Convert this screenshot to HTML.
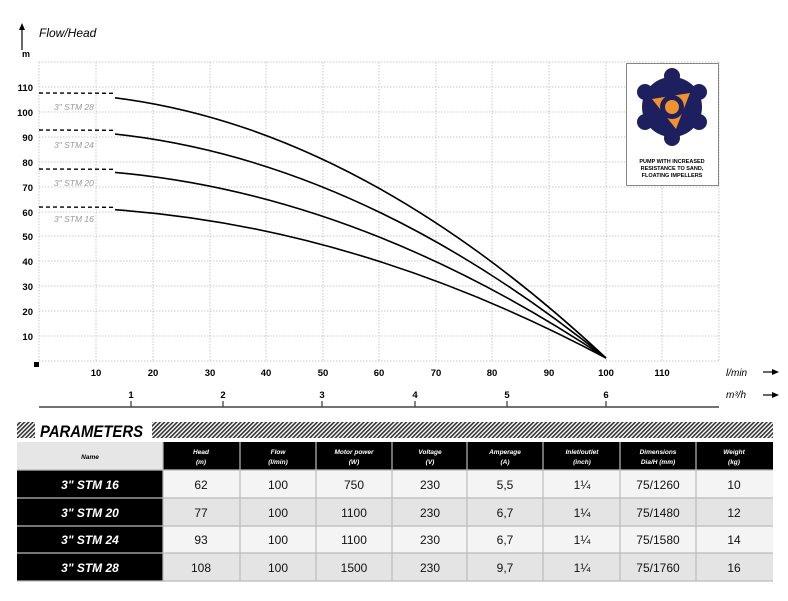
<!DOCTYPE html>
<html><head><meta charset="utf-8"><style>
body{margin:0;background:#fff;width:788px;height:596px;overflow:hidden;font-family:"Liberation Sans",sans-serif}
svg text{font-family:"Liberation Sans",sans-serif}
</style></head><body>
<svg width="788" height="596" viewBox="0 0 788 596" xmlns="http://www.w3.org/2000/svg">
<defs>
<pattern id="hatch" width="3" height="3" patternUnits="userSpaceOnUse" patternTransform="rotate(45)">
<rect width="3" height="3" fill="#fff"/><rect width="1.6" height="3" fill="#333"/>
</pattern>
<clipPath id="cl"><rect x="115" y="0" width="700" height="600"/></clipPath>
</defs>
<g stroke="#bbb" stroke-width="0.8" stroke-dasharray="1.5,1.5">
<line x1="39" y1="62" x2="719" y2="62"/><line x1="39" y1="87" x2="719" y2="87"/><line x1="39" y1="112" x2="719" y2="112"/><line x1="39" y1="137" x2="719" y2="137"/><line x1="39" y1="162" x2="719" y2="162"/><line x1="39" y1="187" x2="719" y2="187"/><line x1="39" y1="212" x2="719" y2="212"/><line x1="39" y1="236" x2="719" y2="236"/><line x1="39" y1="261" x2="719" y2="261"/><line x1="39" y1="286" x2="719" y2="286"/><line x1="39" y1="311" x2="719" y2="311"/><line x1="39" y1="336" x2="719" y2="336"/><line x1="39" y1="361" x2="719" y2="361"/>
<line x1="39" y1="62" x2="39" y2="361"/><line x1="96" y1="62" x2="96" y2="361"/><line x1="153" y1="62" x2="153" y2="361"/><line x1="210" y1="62" x2="210" y2="361"/><line x1="266" y1="62" x2="266" y2="361"/><line x1="323" y1="62" x2="323" y2="361"/><line x1="379" y1="62" x2="379" y2="361"/><line x1="436" y1="62" x2="436" y2="361"/><line x1="492" y1="62" x2="492" y2="361"/><line x1="549" y1="62" x2="549" y2="361"/><line x1="606" y1="62" x2="606" y2="361"/><line x1="662" y1="62" x2="662" y2="361"/><line x1="719" y1="62" x2="719" y2="361"/>
</g>
<line x1="22" y1="50" x2="22" y2="28" stroke="#000" stroke-width="1.2"/><polygon points="19,30 25,30 22,23" fill="#000"/>
<text x="39" y="37" font-size="12" font-style="italic">Flow/Head</text>
<text x="22" y="57" font-size="9" font-weight="bold">m</text>
<g font-size="9.5" font-weight="bold" text-anchor="end">
<text x="33" y="91">110</text><text x="33" y="116">100</text><text x="33" y="141">90</text><text x="33" y="166">80</text><text x="33" y="191">70</text><text x="33" y="216">60</text><text x="33" y="240">50</text><text x="33" y="265">40</text><text x="33" y="290">30</text><text x="33" y="315">20</text><text x="33" y="340">10</text>
</g>
<rect x="34" y="362" width="5" height="5" fill="#000"/>
<g fill="none" stroke="#000" stroke-width="1.6" clip-path="url(#cl)">
<path d="M39,93 Q322.5,93 606,358"/>
<path d="M39,130 Q322.5,130 606,358"/>
<path d="M39,169 Q322.5,169 606,358"/>
<path d="M39,207 Q322.5,207 606,358"/>
</g>
<g stroke="#000" stroke-width="1.4" stroke-dasharray="4,3">
<line x1="39" y1="93" x2="115" y2="93.3"/><line x1="39" y1="130" x2="115" y2="130.3"/><line x1="39" y1="169" x2="115" y2="169.3"/><line x1="39" y1="207" x2="115" y2="207.3"/>
</g>
<g font-size="8.5" font-style="italic" fill="#999">
<text x="54" y="110">3" STM 28</text><text x="54" y="148">3" STM 24</text><text x="54" y="186">3" STM 20</text><text x="54" y="222">3" STM 16</text>
</g>
<g font-size="9.5" font-weight="bold" text-anchor="middle">
<text x="96" y="376">10</text><text x="153" y="376">20</text><text x="210" y="376">30</text><text x="266" y="376">40</text><text x="323" y="376">50</text><text x="379" y="376">60</text><text x="436" y="376">70</text><text x="492" y="376">80</text><text x="549" y="376">90</text><text x="606" y="376">100</text><text x="662" y="376">110</text>
<text x="131" y="398">1</text><text x="223" y="398">2</text><text x="322" y="398">3</text><text x="415" y="398">4</text><text x="507" y="398">5</text><text x="606" y="398">6</text>
</g>
<text x="726" y="376" font-size="10" font-style="italic">l/min</text>
<text x="726" y="398" font-size="10" font-style="italic">m³/h</text>
<line x1="763" y1="372" x2="775" y2="372" stroke="#000" stroke-width="1.2"/><polygon points="772,369 779,372 772,375" fill="#000"/>
<line x1="763" y1="395" x2="775" y2="395" stroke="#000" stroke-width="1.2"/><polygon points="772,392 779,395 772,398" fill="#000"/>
<line x1="39" y1="407" x2="719" y2="407" stroke="#444" stroke-width="1.5"/>
<g stroke="#444" stroke-width="1.3"><line x1="131" y1="401" x2="131" y2="407"/><line x1="223" y1="401" x2="223" y2="407"/><line x1="322" y1="401" x2="322" y2="407"/><line x1="415" y1="401" x2="415" y2="407"/><line x1="507" y1="401" x2="507" y2="407"/><line x1="606" y1="401" x2="606" y2="407"/></g>
<rect x="626.5" y="63.5" width="92" height="122" fill="#fff" stroke="#888"/>
<g transform="translate(672,107)">
<circle r="30" fill="#1d1f5e"/>
<g fill="#1d1f5e"><circle cx="0" cy="-31" r="8"/><circle cx="27" cy="-15" r="8"/><circle cx="27" cy="15" r="8"/><circle cx="0" cy="31" r="8"/><circle cx="-27" cy="15" r="8"/><circle cx="-27" cy="-15" r="8"/></g>
<polygon points="-20,-8 18,-14 4,22" fill="#f0922e"/>
<circle r="12" fill="#1d1f5e"/><circle r="7" fill="#f0922e"/>
</g>
<g font-size="5.5" font-weight="bold" text-anchor="middle"><text x="672" y="163">PUMP WITH INCREASED</text><text x="672" y="170">RESISTANCE TO SAND,</text><text x="672" y="177">FLOATING IMPELLERS</text></g>
<rect x="17" y="422" width="18" height="16" fill="url(#hatch)"/>
<rect x="152" y="422" width="621" height="16" fill="url(#hatch)"/>
<text x="40" y="437" font-size="17" font-weight="bold" font-style="italic" textLength="103" lengthAdjust="spacingAndGlyphs">PARAMETERS</text>
<rect x="17" y="442" width="146" height="28" fill="#e6e6e6"/>
<rect x="163" y="442" width="610" height="28" fill="#000"/>
<rect x="17" y="470" width="146" height="111" fill="#000"/>
<rect x="163" y="470" width="610" height="28" fill="#f4f4f4"/>
<rect x="163" y="498" width="610" height="28" fill="#e4e4e4"/>
<rect x="163" y="526" width="610" height="27" fill="#f4f4f4"/>
<rect x="163" y="553" width="610" height="28" fill="#e4e4e4"/>
<g stroke="#bbb" stroke-width="1.2">
<line x1="17" y1="470" x2="773" y2="470"/><line x1="17" y1="498" x2="773" y2="498"/><line x1="17" y1="526" x2="773" y2="526"/><line x1="17" y1="553" x2="773" y2="553"/><line x1="17" y1="581" x2="773" y2="581"/>
<line x1="163" y1="442" x2="163" y2="581"/><line x1="240" y1="442" x2="240" y2="581"/><line x1="316" y1="442" x2="316" y2="581"/><line x1="392" y1="442" x2="392" y2="581"/><line x1="467" y1="442" x2="467" y2="581"/><line x1="543" y1="442" x2="543" y2="581"/><line x1="620" y1="442" x2="620" y2="581"/><line x1="696" y1="442" x2="696" y2="581"/>
</g>
<g font-size="6.5" font-weight="bold" font-style="italic" text-anchor="middle" fill="#fff">
<text x="90" y="459" fill="#000">Name</text>
<text x="201" y="454">Head</text><text x="201" y="464">(m)</text>
<text x="278" y="454">Flow</text><text x="278" y="464">(l/min)</text>
<text x="354" y="454">Motor power</text><text x="354" y="464">(W)</text>
<text x="430" y="454">Voltage</text><text x="430" y="464">(V)</text>
<text x="505" y="454">Amperage</text><text x="505" y="464">(A)</text>
<text x="582" y="454">Inlet/outlet</text><text x="582" y="464">(inch)</text>
<text x="658" y="454">Dimensions</text><text x="658" y="464">Dia/H (mm)</text>
<text x="734" y="454">Weight</text><text x="734" y="464">(kg)</text>
</g>
<g font-size="12" font-weight="bold" font-style="italic" text-anchor="middle" fill="#fff">
<text x="90" y="489">3" STM 16</text><text x="90" y="517">3" STM 20</text><text x="90" y="544">3" STM 24</text><text x="90" y="572">3" STM 28</text>
</g>
<g font-size="12" text-anchor="middle" fill="#111">
<text x="201" y="489">62</text><text x="278" y="489">100</text><text x="354" y="489">750</text><text x="430" y="489">230</text><text x="505" y="489">5,5</text><text x="582" y="489">1¼</text><text x="658" y="489">75/1260</text><text x="734" y="489">10</text>
<text x="201" y="517">77</text><text x="278" y="517">100</text><text x="354" y="517">1100</text><text x="430" y="517">230</text><text x="505" y="517">6,7</text><text x="582" y="517">1¼</text><text x="658" y="517">75/1480</text><text x="734" y="517">12</text>
<text x="201" y="544">93</text><text x="278" y="544">100</text><text x="354" y="544">1100</text><text x="430" y="544">230</text><text x="505" y="544">6,7</text><text x="582" y="544">1¼</text><text x="658" y="544">75/1580</text><text x="734" y="544">14</text>
<text x="201" y="572">108</text><text x="278" y="572">100</text><text x="354" y="572">1500</text><text x="430" y="572">230</text><text x="505" y="572">9,7</text><text x="582" y="572">1¼</text><text x="658" y="572">75/1760</text><text x="734" y="572">16</text>
</g>
</svg>
</body></html>
